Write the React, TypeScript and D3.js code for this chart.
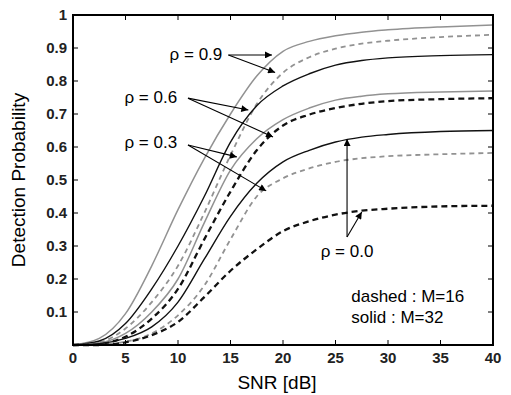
import React from 'react'
import * as d3 from 'd3'

// SNR grid (dB) shared by every curve
const snr = [0, 2.5, 5, 7.5, 10, 12.5, 15, 17.5, 20, 22.5, 25, 27.5, 30, 35, 40]

// detection probability
const rho09M32 = [0, 0.02, 0.095, 0.24, 0.41, 0.565, 0.70, 0.815, 0.89, 0.92, 0.937, 0.948, 0.955, 0.964, 0.97]
const rho09M16 = [0, 0.008, 0.05, 0.13, 0.24, 0.40, 0.575, 0.73, 0.825, 0.872, 0.898, 0.913, 0.922, 0.933, 0.94]
const rho06M32 = [0, 0.012, 0.065, 0.17, 0.30, 0.45, 0.615, 0.725, 0.785, 0.822, 0.848, 0.862, 0.87, 0.877, 0.88]
const rho06M16 = [0, 0.004, 0.025, 0.08, 0.17, 0.32, 0.465, 0.59, 0.665, 0.698, 0.718, 0.731, 0.739, 0.745, 0.748]
const rho03M32 = [0, 0.006, 0.035, 0.10, 0.20, 0.37, 0.53, 0.625, 0.683, 0.718, 0.742, 0.754, 0.761, 0.767, 0.77]
const rho03M16 = [0, 0.002, 0.01, 0.035, 0.09, 0.18, 0.32, 0.45, 0.505, 0.535, 0.555, 0.566, 0.572, 0.578, 0.582]
const rho00M32 = [0, 0.004, 0.02, 0.055, 0.13, 0.26, 0.39, 0.49, 0.555, 0.59, 0.615, 0.63, 0.638, 0.647, 0.65]
const rho00M16 = [0, 0, 0.008, 0.03, 0.07, 0.145, 0.225, 0.29, 0.345, 0.375, 0.395, 0.407, 0.413, 0.42, 0.422]

const xTicks = [0, 5, 10, 15, 20, 25, 30, 35, 40]
const yTicks = [0.1, 0.2, 0.3, 0.4, 0.5, 0.6, 0.7, 0.8, 0.9, 1]

const series = [
  { values: rho09M32, gray: true, dashed: false },
  { values: rho09M16, gray: true, dashed: true },
  { values: rho06M32, gray: false, dashed: false },
  { values: rho06M16, gray: false, dashed: true },
  { values: rho03M32, gray: true, dashed: false },
  { values: rho03M16, gray: true, dashed: true },
  { values: rho00M32, gray: false, dashed: false },
  { values: rho00M16, gray: false, dashed: true },
]

// annotation labels and arrow targets, in data units (snr, prob)
const labels = [
  { text: 'ρ = 0.9', at: [9.2, 0.864], from: [14.8, 0.879], to: [[18.95, 0.879], [19.25, 0.826]] },
  { text: 'ρ = 0.6', at: [4.9, 0.733], from: [10.95, 0.748], to: [[16.7, 0.712], [19.05, 0.63]] },
  { text: 'ρ = 0.3', at: [4.9, 0.597], from: [10.95, 0.606], to: [[15.6, 0.57], [18.4, 0.467]] },
]
const rho0 = { text: 'ρ = 0.0', at: [26.1, 0.267], from: [26.1, 0.327], to: [[26.1, 0.624], [27.5, 0.403]] }
const legendLines = ['dashed : M=16', 'solid : M=32']

const W = 511, H = 395
const m = { left: 73, top: 15, right: 18, bottom: 50 }

export default function App() {
  const x = d3.scaleLinear().domain([0, 40]).range([m.left, W - m.right])
  const y = d3.scaleLinear().domain([0, 1]).range([H - m.bottom, m.top])

  const line = d3.line<number>()
    .x((_, i) => x(snr[i]))
    .y(d => y(d))
    .curve(d3.curveMonotoneX)

  const font = 'Arial, "Liberation Sans", sans-serif'
  const x0 = x(0), x1 = x(40), y0 = y(0), y1 = y(1)

  const arrows = [...labels, rho0].flatMap(l =>
    l.to.map(t => ({ x1: x(l.from[0]), y1: y(l.from[1]), x2: x(t[0]), y2: y(t[1]) }))
  )

  return (
    <svg width={W} height={H} style={{ position: 'absolute', left: 0, top: 0, background: '#fff' }}>
      <defs>
        <marker id="ah" viewBox="0 0 10 10" refX="10" refY="5" markerWidth="9" markerHeight="7"
          markerUnits="userSpaceOnUse" orient="auto">
          <path d="M0,0 L10,5 L0,10 z" fill="#000" />
        </marker>
      </defs>

      {series.map((s, i) => (
        <path key={i} d={line(s.values) || ''} fill="none"
          stroke={s.gray ? '#929292' : '#111'}
          strokeWidth={s.dashed ? (s.gray ? 1.8 : 2.3) : (s.gray ? 1.5 : 1.4)}
          strokeDasharray={s.dashed ? (s.gray ? '5,4' : '6,4') : undefined} />
      ))}

      {/* frame */}
      <rect x={x0} y={y1} width={x1 - x0} height={y0 - y1} fill="none" stroke="#000" strokeWidth={2} />
      {xTicks.map(t => (
        <g key={'x' + t}>
          <line x1={x(t)} x2={x(t)} y1={y0} y2={y0 - 5} stroke="#000" />
          <line x1={x(t)} x2={x(t)} y1={y1} y2={y1 + 5} stroke="#000" />
          <text x={x(t)} y={y0 + 18} textAnchor="middle" fontFamily={font} fontSize={15}
            fontWeight="bold" fill="#222">{t}</text>
        </g>
      ))}
      {yTicks.map(t => (
        <g key={'y' + t}>
          <line x1={x0} x2={x0 + 5} y1={y(t)} y2={y(t)} stroke="#000" />
          <line x1={x1} x2={x1 - 5} y1={y(t)} y2={y(t)} stroke="#000" />
          <text x={x0 - 6} y={y(t) + 5} textAnchor="end" fontFamily={font} fontSize={15}
            fontWeight="bold" fill="#222">{t}</text>
        </g>
      ))}

      <text x={(x0 + x1) / 2 - 6} y={389} textAnchor="middle" fontFamily={font} fontSize={19}>SNR [dB]</text>
      <text transform={`translate(25,${(y0 + y1) / 2}) rotate(-90)`} textAnchor="middle"
        fontFamily={font} fontSize={19}>Detection Probability</text>

      {arrows.map((a, i) => (
        <line key={'a' + i} x1={a.x1} y1={a.y1} x2={a.x2} y2={a.y2} stroke="#000" strokeWidth={1.1}
          markerEnd="url(#ah)" />
      ))}
      {labels.map(l => (
        <text key={l.text} x={x(l.at[0])} y={y(l.at[1])} fontFamily={font} fontSize={17}>{l.text}</text>
      ))}
      <text x={x(rho0.at[0])} y={y(rho0.at[1])} textAnchor="middle" fontFamily={font} fontSize={17}>{rho0.text}</text>
      {legendLines.map((t, i) => (
        <text key={t} x={x(26.5)} y={y(0.13 - i * 0.064)} fontFamily={font} fontSize={17}>{t}</text>
      ))}
    </svg>
  )
}
